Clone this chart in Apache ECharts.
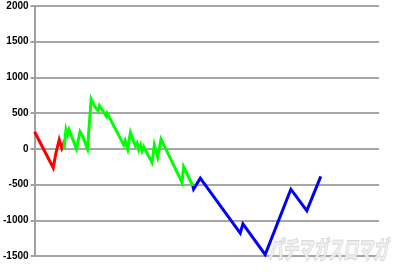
<!DOCTYPE html>
<html>
<head>
<meta charset="utf-8">
<script src="https://cdn.jsdelivr.net/npm/echarts@6/dist/echarts.min.js"></script>
<style>html,body{margin:0;padding:0;background:#fff;}#c{width:400px;height:274px;}</style>
</head>
<body>
<div id="c"></div>
<script>
// x = games played, y = medal difference
var redData = [[0,240],[374,-265],[426,-65],[454,-90],[494,130],[546,10],[574,60],[590,5]];
var greenData = [[590,5],[630,270],[660,200],[690,270],[840,0],[910,240],[960,180],[1060,0],[1134,695],[1206,590],[1234,615],[1274,535],[1300,605],[1434,460],[1454,500],[1786,55],[1814,115],[1866,-5],[1920,230],[1974,125],[2020,40],[2054,80],[2086,-10],[2120,55],[2154,-30],[2186,30],[2354,-190],[2400,55],[2466,-115],[2534,135],[2954,-470],[2986,-250],[3170,-520]];
var blueData = [[3170,-520],[3186,-565],[3320,-410],[4120,-1180],[4174,-1050],[4620,-1480],[5134,-565],[5454,-865],[5734,-385]];
var yMin = -1500, yMax = 2000, yStep = 500;
var xMax = 6900;
var watermark = 'パチマガスロマガ';

var chart = echarts.init(document.getElementById('c'), null, {renderer:'canvas'});
function line(data, color){
  return {type:'line', data:data, symbol:'none', smooth:false, silent:true,
    lineStyle:{color:color, width:3, join:'miter'}, z:3};
}
chart.setOption({
  animation:false,
  backgroundColor:'#fff',
  grid:{left:34, right:21, top:6, bottom:18},
  xAxis:{type:'value', min:0, max:xMax, axisLine:{show:false}, axisTick:{show:false},
    axisLabel:{show:false}, splitLine:{show:false}},
  yAxis:{type:'value', min:yMin, max:yMax, interval:yStep,
    axisLine:{show:true, lineStyle:{color:'#a0a0a0', width:2}},
    axisTick:{show:true, length:4, lineStyle:{color:'#a0a0a0', width:2}},
    axisLabel:{color:'#000', fontSize:10, fontFamily:'Liberation Sans, Arial', fontWeight:'bold', margin:6,
      formatter:function(v){return String(v);}},
    splitLine:{show:true, lineStyle:{color:'#a6a6a6', width:2}}},
  graphic:[{type:'text', x:388, y:262, scaleY:1.7, z:1, silent:true,
    style:{text:watermark, x:0, y:0, align:'right', verticalAlign:'bottom', fontSize:15, fontWeight:'bold', fontStyle:'italic',
      fontFamily:'Noto Sans CJK JP', fill:'rgba(238,238,238,0.9)', stroke:'rgba(195,195,195,0.7)', lineWidth:1}}],
  series:[line(redData,'#ff0000'), line(greenData,'#00ff00'), line(blueData,'#0000ff')]
});
</script>
</body>
</html>
